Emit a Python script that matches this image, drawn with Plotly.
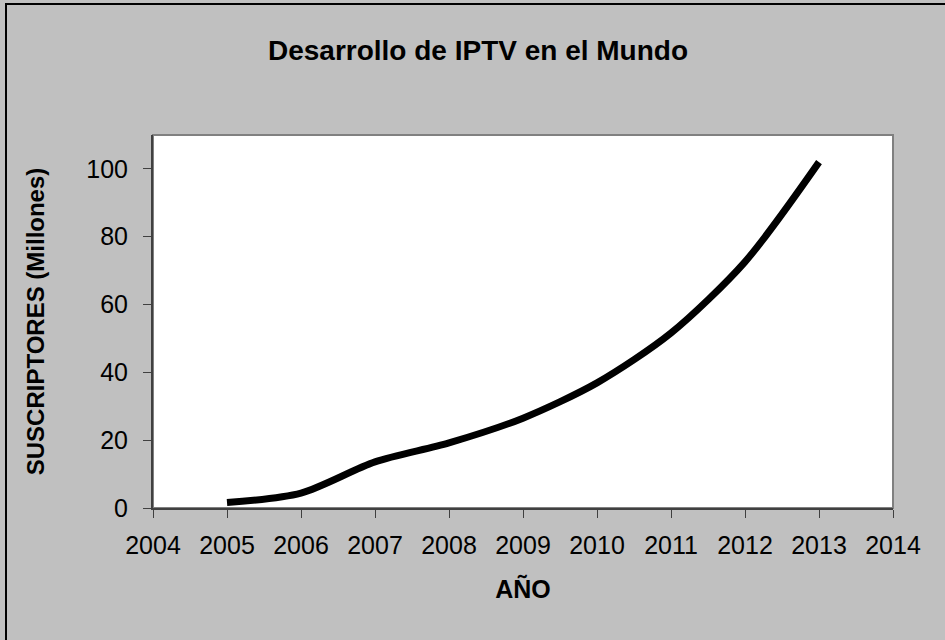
import plotly.graph_objects as go

years = [2005, 2006, 2007, 2008, 2009, 2010, 2011, 2012, 2013]
subscribers = [1.6, 4.4, 13.6, 19.2, 26.5, 36.9, 51.6, 72.6, 102]
x_ticks = list(range(2004, 2015))
y_ticks = [0, 20, 40, 60, 80, 100]

W, H = 945, 640
L, R, T, B = 153, 52, 135, 132
pw, ph = W - L - R, H - T - B

fig = go.Figure()
fig.add_trace(go.Scatter(
    x=years, y=subscribers, mode="lines",
    line=dict(color="black", width=7, shape="spline", smoothing=0.8),
    hoverinfo="x+y", showlegend=False,
))

font = "Liberation Sans, Arial, sans-serif"
fig.update_layout(
    width=W, height=H,
    margin=dict(l=L, r=R, t=T, b=B),
    paper_bgcolor="#C0C0C0",
    plot_bgcolor="white",
    title=dict(text="<b>Desarrollo de IPTV en el Mundo</b>",
               x=478 / W, xanchor="center",
               y=1 - 50 / H, yanchor="middle",
               font=dict(family=font, size=28, color="black")),
    xaxis=dict(range=[2004, 2014], tickvals=x_ticks,
               ticktext=[str(v) for v in x_ticks],
               showgrid=False, zeroline=False,
               showline=True, linecolor="#404040", linewidth=2,
               ticks="outside", ticklen=8, tickcolor="#404040", tickwidth=1,
               ticklabelstandoff=6,
               tickfont=dict(family=font, size=25, color="black"),
               title=dict(text="<b>AÑO</b>", standoff=22,
                          font=dict(family=font, size=25, color="black"))),
    yaxis=dict(range=[0, 110], tickvals=y_ticks,
               showgrid=False, zeroline=False,
               showline=True, linecolor="#404040", linewidth=2,
               ticks="outside", ticklen=8, tickcolor="#404040", tickwidth=1,
               ticklabelstandoff=10,
               tickfont=dict(family=font, size=25, color="black"),
               title=dict(text="<b>SUSCRIPTORES (Millones)</b>", standoff=35,
                          font=dict(family=font, size=24, color="black"))),
    shapes=[
        dict(type="rect", xref="paper", yref="paper", x0=0, x1=1, y0=0, y1=1,
             line=dict(color="#808080", width=2), layer="below"),
        dict(type="rect", xref="paper", yref="paper",
             x0=(-L + 6) / pw, x1=(pw + R + 20) / pw,
             y0=(-B - 20) / ph, y1=(ph + T - 4) / ph,
             line=dict(color="black", width=2), layer="below"),
    ],
)

fig.write_html(
    "out.html",
    config={"displayModeBar": False},
    post_script="document.body.style.margin='0';document.body.style.overflow='hidden';",
)
